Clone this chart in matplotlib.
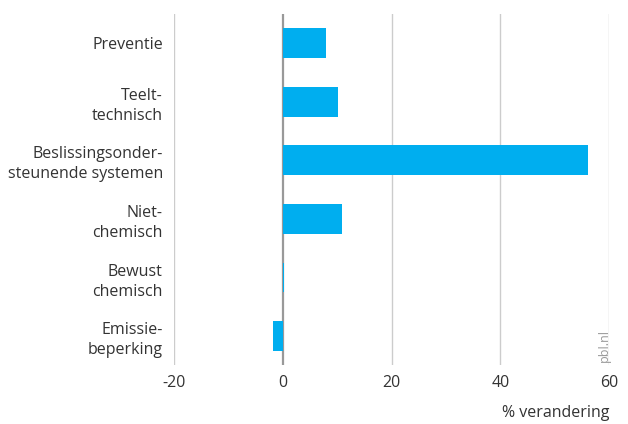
import matplotlib.pyplot as plt
import numpy as np

categories = ["Preventie", "Teelt-\ntechnisch", "Beslissingsonder-\nsteunende systemen",
              "Niet-\nchemisch", "Bewust\nchemisch", "Emissie-\nbeperking"]
values = [7.9, 10.1, 56.2, 10.9, 0.2, -1.8]
xticks = [-20, 0, 20, 40, 60]

plt.rcParams['font.family'] = ['Open Sans', 'DejaVu Sans']
text_color = '#333333'

fig = plt.figure(figsize=(6.28, 4.24), dpi=100)
ax = fig.add_axes([0.277, 0.138, 0.693, 0.830])

y = np.arange(len(categories))
ax.barh(y, values, height=0.51, color='#00AEEF', zorder=3)

ax.set_xlim(-20, 60)
ax.set_ylim(len(categories) - 0.5, -0.5)
ax.set_xticks(xticks)
ax.set_xticklabels([str(t) for t in xticks], fontsize=11.5, color=text_color)
ax.set_yticks(y)
ax.set_yticklabels(categories, fontsize=11.5, color=text_color, linespacing=1.35)
for lab in ax.get_yticklabels():
    lab.set_multialignment('right')
ax.tick_params(axis='both', length=0)
ax.tick_params(axis='y', pad=8)
ax.tick_params(axis='x', pad=7)

for t in xticks:
    if t == 0:
        ax.axvline(t, color='#999999', linewidth=1.6, zorder=2)
    else:
        ax.axvline(t, color='#cccccc', linewidth=1.0, zorder=1)

for s in ax.spines.values():
    s.set_visible(False)

ax.set_xlabel('% verandering', fontsize=11.5, color=text_color, loc='right', labelpad=10)
fig.text(0.962, 0.147, 'pbl.nl', rotation=90, fontsize=9, color='#999999',
         ha='center', va='bottom')

fig.savefig('out.png', dpi=100)
